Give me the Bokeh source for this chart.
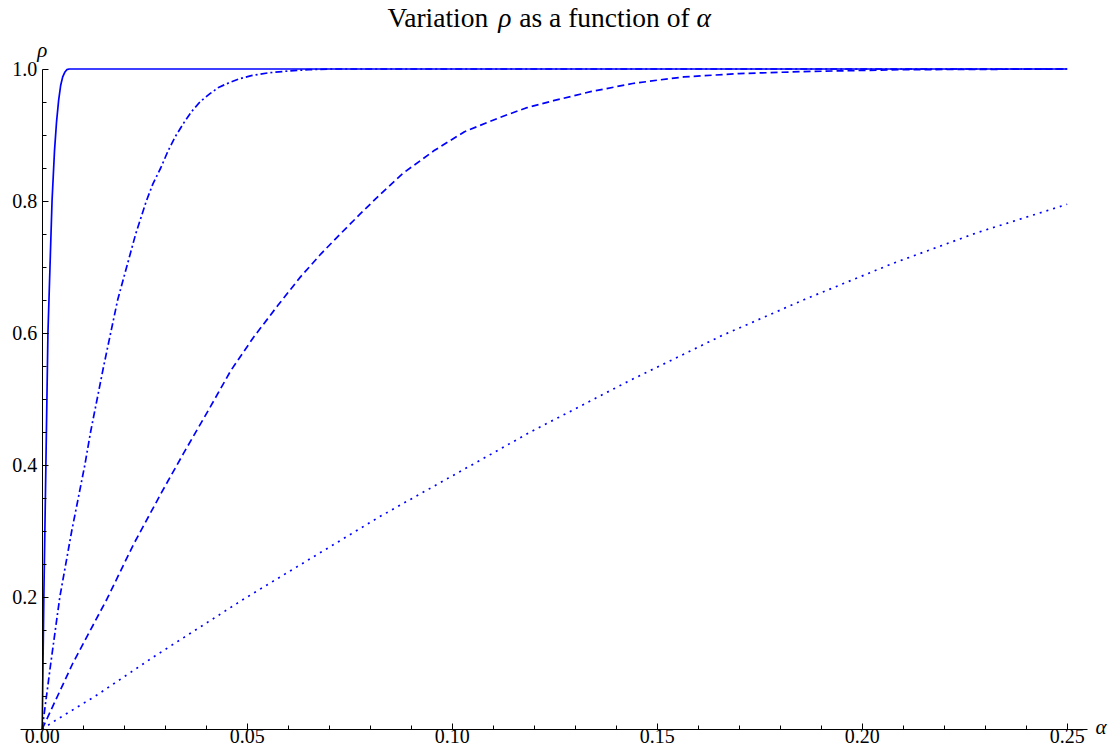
from bokeh.plotting import figure
from bokeh.models import Range1d, FixedTicker, PrintfTickFormatter, Label
from bokeh.embed import file_html
from bokeh.resources import INLINE

# ---- data (alpha, rho) ----
solid_alpha = [0.0, 0.0004, 0.0009, 0.0014, 0.0019, 0.0024, 0.0030, 0.0035, 0.0040, 0.0045, 0.0050,
               0.0055, 0.0060, 0.0066, 0.25]
solid_rho = [0.0, 0.2, 0.4, 0.6, 0.7, 0.8, 0.876, 0.92, 0.952, 0.975, 0.988,
             0.995, 0.999, 1.0, 1.0]

dashdot_alpha = [0.0, 0.0021, 0.0043, 0.0072, 0.0104, 0.0118, 0.0134, 0.0150, 0.0167, 0.0184, 0.0206, 0.0228,
                 0.0254, 0.0270, 0.0289, 0.0307, 0.0325, 0.0345, 0.0365, 0.0386, 0.0410, 0.0430, 0.0455,
                 0.0480, 0.0510, 0.0550, 0.0600, 0.0650, 0.0700, 0.25]
dashdot_rho = [0.0, 0.1, 0.2, 0.3, 0.4, 0.45, 0.5, 0.55, 0.6, 0.65, 0.7, 0.75,
               0.8, 0.826, 0.85, 0.876, 0.898, 0.918, 0.936, 0.951, 0.963, 0.972, 0.979,
               0.985, 0.990, 0.994, 0.997, 0.999, 1.0, 1.0]

dashed_alpha = [0.0, 0.0075, 0.0158, 0.0223, 0.0289, 0.0345, 0.0410, 0.0460, 0.0516, 0.0575, 0.0630, 0.0680,
                0.0727, 0.0775, 0.0821, 0.0880, 0.0955, 0.1030, 0.1118, 0.1180, 0.1247, 0.1340, 0.1440,
                0.1500, 0.1565, 0.1700, 0.1850, 0.2100, 0.25]
dashed_rho = [0.0, 0.1, 0.197, 0.28, 0.356, 0.418, 0.488, 0.543, 0.594, 0.642, 0.685, 0.720,
              0.750, 0.780, 0.808, 0.842, 0.876, 0.905, 0.927, 0.941, 0.952, 0.966, 0.978,
              0.983, 0.988, 0.993, 0.996, 0.999, 1.0]

dotted_alpha = [0.0, 0.0032, 0.013, 0.0276, 0.0492, 0.0707, 0.0821, 0.095, 0.1191, 0.143, 0.1654, 0.186,
                0.2073, 0.228, 0.25]
dotted_rho = [0.0, 0.0129, 0.050, 0.111, 0.197, 0.278, 0.321, 0.366, 0.450, 0.527, 0.595, 0.651,
              0.705, 0.752, 0.795]

x_major = [0.0, 0.05, 0.10, 0.15, 0.20, 0.25]
x_minor = [round(0.01 * i, 2) for i in range(0, 26) if i % 5 != 0]
y_major = [0.2, 0.4, 0.6, 0.8, 1.0]
y_minor = [round(0.05 * i, 2) for i in range(1, 21) if i % 4 != 0]

title_parts = [("Variation", "normal"), ("ρ", "italic"), ("as a function of", "normal"), ("α", "italic")]
x_label = "α"
y_label = "ρ"

# ---- layout (page pixels; the Bokeh page has no body margin) ----
W, H = 1116, 751
X0_PX, X_SCALE = 41.7, 4100.0
Y0_PX, Y_SCALE = 728.5, 660.0
FL, FR, FT, FB = 2, 1112, 2, 748


def ax(px):
    return (px - X0_PX) / X_SCALE


def ay(py):
    return (Y0_PX - py) / Y_SCALE


p = figure(width=W, height=H, output_backend="svg", toolbar_location=None,
           x_range=Range1d(ax(FL), ax(FR)), y_range=Range1d(ay(FB), ay(FT)),
           min_border_left=FL, min_border_right=W - FR,
           min_border_top=FT, min_border_bottom=H - FB)

p.grid.visible = False
p.outline_line_color = None
p.background_fill_color = "white"
p.border_fill_color = "white"

p.xaxis.fixed_location = 0
p.yaxis.fixed_location = 0
p.xaxis.ticker = FixedTicker(ticks=x_major, minor_ticks=x_minor)
p.yaxis.ticker = FixedTicker(ticks=y_major, minor_ticks=y_minor)
p.xaxis.formatter = PrintfTickFormatter(format="%.2f")
p.yaxis.formatter = PrintfTickFormatter(format="%.1f")
p.xaxis.bounds = (ax(20), ax(1087))
p.yaxis.bounds = (0, 1.0)

for a in (p.xaxis[0], p.yaxis[0]):
    a.axis_line_color = "black"
    a.axis_line_width = 1
    a.major_tick_line_color = "black"
    a.minor_tick_line_color = "black"
    a.major_tick_in = 6
    a.major_tick_out = 0
    a.minor_tick_in = 4
    a.minor_tick_out = 0
    a.major_label_text_font = "Liberation Serif"
    a.major_label_text_font_size = "20px"
    a.major_label_text_color = "black"
p.xaxis.major_label_standoff = 0
p.yaxis.major_label_standoff = 5

BLUE = "#0000ff"
LW = 1.7
p.line(dotted_alpha, dotted_rho, line_color=BLUE, line_width=LW, line_dash="2 5")
p.line(dashed_alpha, dashed_rho, line_color=BLUE, line_width=LW, line_dash="7 4")
p.line(dashdot_alpha, dashdot_rho, line_color=BLUE, line_width=LW, line_dash="7 3 2 3")
p.line(solid_alpha, solid_rho, line_color=BLUE, line_width=LW)

# axis labels
p.add_layout(Label(x=0, y=ay(49), text=y_label, text_font="Liberation Serif", text_font_style="italic",
                   text_font_size="21px", text_align="center", text_baseline="middle", text_color="black"))
p.add_layout(Label(x=ax(1095), y=ay(726), text=x_label, text_font="Liberation Serif", text_font_style="italic",
                   text_font_size="21px", text_align="left", text_baseline="middle", text_color="black"))

# title, built from pieces so the Greek letters can be italic
TF = 27.5
widths = {"Variation": 3.777, "ρ": 0.52, "as a function of": 6.193, "α": 0.55}
total = sum(widths[t] for t, _ in title_parts) * TF + 0.25 * TF * (len(title_parts) - 1)
cx = 549.0 - total / 2
for t, style in title_parts:
    p.add_layout(Label(x=ax(cx), y=ay(16.5), text=t, text_font="Liberation Serif", text_font_style=style,
                       text_font_size=f"{TF}px", text_align="left", text_baseline="middle",
                       text_color="black"))
    cx += widths[t] * TF + 0.25 * TF

open("out.html", "w").write(file_html(p, INLINE))
